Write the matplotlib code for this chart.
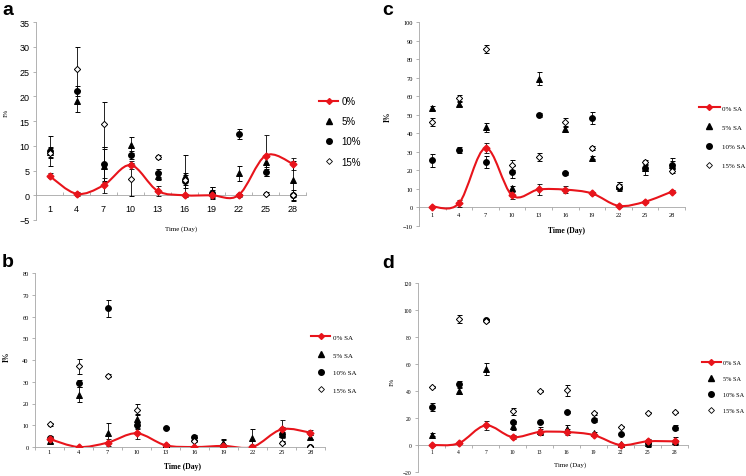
import matplotlib
matplotlib.use("Agg")
import matplotlib.pyplot as plt
from matplotlib.path import Path
from matplotlib.patches import PathPatch
from matplotlib.lines import Line2D
from matplotlib.ticker import FixedLocator, MultipleLocator
import numpy as np

DAYS = [1, 4, 7, 10, 13, 16, 19, 22, 25, 28]

# panel a
A_LABELS = ["0%", "5%", "10%", "15%"]
A_0 = [3.9, 0.3, 2.0, 6.1, 0.9, 0.0, 0.0, 0.0, 8.0, 6.4]
A_5 = [8.8, 19.1, 6.0, 10.2, 3.9, 3.9, 0.7, 4.4, 6.8, 3.0]
A_10 = [8.9, 21.1, 6.3, 8.2, 4.5, 2.9, 0.5, 12.4, 4.6, 0.0]
A_15 = [8.5, 25.5, 14.3, 3.2, 7.8, 3.0, 0.3, 0.0, 0.3, 0.0]
A_0_ERR = [0.5, 0.4, 1.5, 0.8, 1.0, 0.2, 0.2, 0.3, 4.2, 1.2]
A_5_ERR = [1.0, 2.2, 3.4, 1.6, 0.8, 4.2, 1.0, 1.6, 1.0, 3.9]
A_10_ERR = [3.0, 1.0, 3.4, 0.8, 0.9, 1.5, 1.2, 1.0, 0.8, 1.1]
A_15_ERR = [1.0, 4.5, 4.5, 3.4, 0.4, 1.0, 0.8, 0.2, 0.3, 0.3]

# panel b
SA_LABELS = ["0% SA", "5% SA", "10% SA", "15% SA"]
B_0 = [3.7, 0.0, 2.0, 6.3, 0.8, 0.0, 0.5, 0.0, 8.1, 6.6]
B_5 = [2.9, 24.0, 6.6, 13.0, 0.8, 4.0, 2.0, 4.3, 6.1, 4.6]
B_10 = [4.0, 29.3, 63.7, 9.9, 8.9, 4.7, 0.5, 0.0, 6.1, 0.0]
B_15 = [10.4, 37.1, 32.8, 17.1, 0.0, 2.9, 0.8, 0.0, 1.7, 0.0]
B_0_ERR = [0.5, 0.5, 1.5, 2.5, 0.5, 0.3, 0.3, 0.3, 4.1, 1.2]
B_5_ERR = [1.0, 3.5, 4.6, 2.0, 0.5, 0.8, 1.5, 4.1, 3.2, 1.0]
B_10_ERR = [1.0, 1.5, 3.7, 1.5, 0.5, 0.6, 0.6, 0.3, 1.0, 0.3]
B_15_ERR = [0.6, 3.4, 0.6, 2.5, 0.3, 0.5, 2.5, 0.3, 0.5, 0.3]

# panel c
C_0 = [0.5, 2.2, 32.0, 6.5, 9.7, 9.6, 7.6, 0.9, 3.1, 8.5]
C_5 = [53.6, 55.6, 43.3, 10.3, 69.3, 42.2, 26.9, 11.6, 21.3, 22.9]
C_10 = [25.5, 31.0, 24.7, 19.1, 49.8, 18.4, 48.4, 11.2, 21.1, 22.9]
C_15 = [46.0, 59.0, 85.4, 22.9, 27.1, 46.0, 32.0, 11.5, 24.5, 19.5]
C_0_ERR = [0.5, 2.0, 2.5, 2.0, 3.2, 2.0, 0.8, 0.5, 0.8, 0.8]
C_5_ERR = [1.0, 1.0, 2.5, 1.5, 3.5, 1.5, 1.0, 2.0, 1.5, 2.0]
C_10_ERR = [3.5, 1.8, 3.2, 3.0, 1.0, 0.8, 3.3, 2.5, 3.5, 3.5]
C_15_ERR = [2.2, 1.5, 2.0, 2.5, 2.0, 2.5, 1.2, 1.0, 1.0, 1.0]

# panel d
D_0 = [0.0, 1.2, 14.5, 5.9, 9.6, 9.6, 7.4, 0.0, 2.7, 2.7]
D_5 = [7.6, 39.9, 56.4, 13.8, 10.1, 11.6, 8.6, 0.5, 1.7, 3.2]
D_10 = [28.1, 45.1, 92.6, 16.7, 16.7, 24.4, 18.7, 7.9, 1.2, 12.8]
D_15 = [42.9, 93.3, 92.0, 24.9, 39.9, 40.4, 23.4, 13.5, 23.9, 24.1]
D_0_ERR = [0.5, 0.8, 3.5, 1.5, 2.5, 2.0, 1.0, 0.5, 0.8, 0.8]
D_5_ERR = [1.0, 2.0, 4.5, 3.0, 3.0, 3.0, 1.0, 0.5, 3.0, 3.0]
D_10_ERR = [3.0, 2.5, 1.0, 1.0, 0.5, 0.5, 1.5, 0.5, 0.5, 2.0]
D_15_ERR = [0.8, 3.0, 1.0, 2.5, 0.5, 4.0, 1.0, 0.5, 0.5, 0.5]

SERIF = ["Liberation Serif", "DejaVu Serif"]
SANS = ["Liberation Sans", "DejaVu Sans"]
RED = "#E8141B"


def smooth_path(x, y):
    """Excel-style smoothed line (Catmull-Rom as cubic Bezier)."""
    pts = np.column_stack([x, y]).astype(float)
    n = len(pts)
    verts = [pts[0]]
    codes = [Path.MOVETO]
    for i in range(n - 1):
        p0 = pts[max(i - 1, 0)]
        p1 = pts[i]
        p2 = pts[i + 1]
        p3 = pts[min(i + 2, n - 1)]
        verts += [p1 + (p2 - p0) / 6, p2 - (p3 - p1) / 6, p2]
        codes += [Path.CURVE4] * 3
    return Path(verts, codes)


def draw_panel(ax, series, errs, ylim, ystep, tick_font, tick_size, tick_dir, xpad):
    x = np.arange(len(DAYS))
    ms = 4.2
    styles = [
        dict(marker="^", color="black", mfc="black", mec="black"),
        dict(marker="o", color="black", mfc="black", mec="black"),
        dict(marker="D", color="black", mfc="white", mec="black", ms=3.2),
    ]
    for vals, err, st in zip(series[1:], errs[1:], styles):
        kw = dict(ms=ms)
        kw.update(st)
        ax.errorbar(x, vals, yerr=err, ls="none", ecolor="black", elinewidth=0.6,
                    capsize=1.8, capthick=0.6, mew=0.7, zorder=3, **kw)
    ax.errorbar(x, series[0], yerr=errs[0], ls="none", ecolor="black", elinewidth=0.6,
                capsize=1.8, capthick=0.6, zorder=4, marker="D", ms=3.5,
                mfc=RED, mec=RED)
    ax.add_patch(PathPatch(smooth_path(x, series[0]), fc="none", ec=RED, lw=1.5, zorder=5))

    ax.set_xlim(-0.5, len(DAYS) - 0.5)
    ax.set_ylim(*ylim)
    ax.yaxis.set_major_locator(MultipleLocator(ystep))
    ax.xaxis.set_major_locator(FixedLocator(x))
    ax.xaxis.set_minor_locator(FixedLocator(np.arange(len(DAYS) + 1) - 0.5))
    ax.set_xticklabels([str(d) for d in DAYS])
    for s in ("top", "right"):
        ax.spines[s].set_visible(False)
    ax.spines["bottom"].set_position(("data", 0))
    for s in ("left", "bottom"):
        ax.spines[s].set_color("#A6A6A6")
        ax.spines[s].set_linewidth(0.6)
    ax.tick_params(axis="x", which="major", length=0, pad=xpad)
    ax.tick_params(axis="x", which="minor", length=2.5, direction=tick_dir,
                   color="#A6A6A6", width=0.6)
    ax.tick_params(axis="y", length=2.5, color="#A6A6A6", width=0.6, pad=2)
    for lab in ax.get_xticklabels() + ax.get_yticklabels():
        lab.set_family(tick_font)
        lab.set_fontsize(tick_size)
    ax.set_facecolor("none")


def add_legend(fig, labels, anchor, fontsize, family, spacing, hlen):
    handles = [
        Line2D([], [], color=RED, lw=1.5, marker="D", ms=3, mfc=RED, mec=RED),
        Line2D([], [], ls="none", marker="^", ms=4, color="black"),
        Line2D([], [], ls="none", marker="o", ms=4, color="black"),
        Line2D([], [], ls="none", marker="D", ms=3, mfc="white", mec="black", mew=0.6),
    ]
    fig.legend(handles, labels, loc="upper left", bbox_to_anchor=anchor, frameon=False,
               prop=dict(family=family, size=fontsize), labelspacing=spacing,
               handlelength=hlen, handletextpad=0.3, borderaxespad=0, borderpad=0)


fig = plt.figure(figsize=(7.46, 4.77), dpi=100)
W, H = 746.0, 477.0


def axes_px(left, right, top, bottom):
    return fig.add_axes([left / W, 1 - bottom / H, (right - left) / W, (bottom - top) / H])


ax_a = axes_px(36, 306, 23, 221)
draw_panel(ax_a, [A_0, A_5, A_10, A_15], [A_0_ERR, A_5_ERR, A_10_ERR, A_15_ERR],
           (-5, 35), 5, SANS, 6.5, "in", 6)
ax_c = axes_px(419, 685, 23, 227)
draw_panel(ax_c, [C_0, C_5, C_10, C_15], [C_0_ERR, C_5_ERR, C_10_ERR, C_15_ERR],
           (-10, 100), 10, SERIF, 4.6, "out", 3)
ax_b = axes_px(35, 325, 274, 448)
draw_panel(ax_b, [B_0, B_5, B_10, B_15], [B_0_ERR, B_5_ERR, B_10_ERR, B_15_ERR],
           (0, 80), 10, SERIF, 4.6, "out", 1.5)
ax_d = axes_px(418, 688, 284, 473)
draw_panel(ax_d, [D_0, D_5, D_10, D_15], [D_0_ERR, D_5_ERR, D_10_ERR, D_15_ERR],
           (-20, 120), 20, SERIF, 4.0, "out", 3)

# axis titles
fig.text(181 / W, 1 - 229 / H, "Time (Day)", family=SERIF, size=5, ha="center", va="center")
fig.text(566 / W, 1 - 231 / H, "Time (Day)", family=SERIF, size=5.5, weight="bold",
         ha="center", va="center")
fig.text(182 / W, 1 - 467 / H, "Time (Day)", family=SERIF, size=5.5, weight="bold",
         ha="center", va="center")
fig.text(570 / W, 1 - 465 / H, "Time (Day)", family=SERIF, size=5, ha="center", va="center")
fig.text(6 / W, 1 - 113 / H, "I%", family=SERIF, size=5, rotation=90, ha="center", va="center")
fig.text(388 / W, 1 - 117 / H, "I%", family=SERIF, size=5.5, weight="bold", rotation=90,
         ha="center", va="center")
fig.text(7 / W, 1 - 357 / H, "I%", family=SERIF, size=5.5, weight="bold", rotation=90,
         ha="center", va="center")
fig.text(392 / W, 1 - 382 / H, "I%", family=SERIF, size=5, rotation=90, ha="center", va="center")

# panel letters
for letter, px, py in [("a", 2, 2), ("c", 382, 2), ("b", 2, 254), ("d", 382, 255)]:
    fig.text(px / W, 1 - py / H, letter, family=SANS, size=14, weight="bold",
             ha="left", va="top")

add_legend(fig, A_LABELS, (319 / W, 1 - 97 / H), 7, SANS, 1.05, 2.0)
add_legend(fig, SA_LABELS, (699 / W, 1 - 106 / H), 5, SERIF, 1.9, 3.0)
add_legend(fig, SA_LABELS, (311 / W, 1 - 335 / H), 5, SERIF, 1.7, 2.8)
add_legend(fig, SA_LABELS, (702 / W, 1 - 361 / H), 4.5, SERIF, 1.7, 3.0)

fig.savefig("out.png", dpi=100, facecolor="white")
